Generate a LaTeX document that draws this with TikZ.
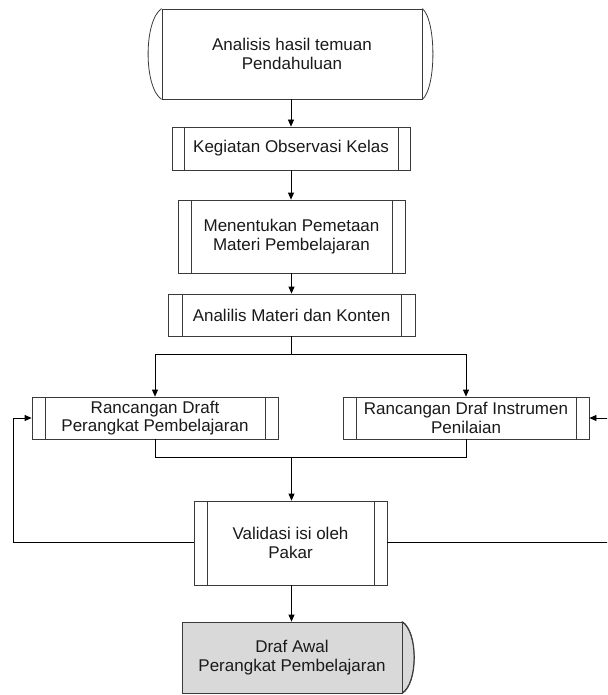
\documentclass[tikz,border=0pt]{standalone}
\usepackage{fontspec}
\setmainfont{Liberation Sans}
\usetikzlibrary{arrows.meta}
\definecolor{boxc}{HTML}{3A3A3A}
\definecolor{fillg}{HTML}{D9D9D9}
\definecolor{txtc}{HTML}{1A1A1A}
\tikzset{
  box/.style={draw=boxc, line width=0.8pt, fill=white, align=center, inner sep=0pt, text=txtc},
  procbox/.style={box, path picture={
      \draw[boxc, line width=0.8pt]
        ([xshift=#1]path picture bounding box.north west) -- ([xshift=#1]path picture bounding box.south west)
        ([xshift=-#1]path picture bounding box.north east) -- ([xshift=-#1]path picture bounding box.south east);}},
  arr/.style={draw=black, line width=0.8pt, -{Triangle[length=7pt,width=6pt]}},
  ln/.style={draw=black, line width=0.8pt},
  bulge/.style={draw=boxc, line width=0.8pt}
}
\begin{document}
\begin{tikzpicture}[x=1pt, y=-1pt, font=\fontsize{17}{18.5}\selectfont]
\clip (0,0) rectangle (607,695);
\fill[white] (0,0) rectangle (607,695);

% nodes
\node[box, minimum width=260pt, minimum height=90pt] (n1) at (292,54) {Analisis hasil temuan\\Pendahuluan};
\draw[bulge] (n1.north west) .. controls +(-18,12) and +(-18,-12) .. (n1.south west);
\draw[bulge] (n1.north east) .. controls +(14,12) and +(14,-12) .. (n1.south east);

\node[procbox=12pt, minimum width=238pt, minimum height=43pt] (n2) at (291,148.5) {Kegiatan Observasi Kelas};
\node[procbox=13pt, minimum width=227pt, minimum height=73pt] (n3) at (291.5,236.5) {Menentukan Pemetaan\\Materi Pembelajaran};
\node[procbox=14pt, minimum width=247pt, minimum height=42pt] (n4) at (291.5,315) {Analilis Materi dan Konten};
\node[procbox=13pt, minimum width=246pt, minimum height=42pt] (n5) at (155,418) {Rancangan Draft\\Perangkat Pembelajaran};
\node[procbox=13pt, minimum width=246pt, minimum height=42pt] (n6) at (466,418) {Rancangan Draf Instrumen\\Penilaian};
\node[procbox=13pt, minimum width=193pt, minimum height=84pt] (n7) at (290.5,543) {Validasi isi oleh\\Pakar};
\filldraw[fill=fillg, draw=boxc, line width=0.8pt] (402,622) .. controls +(16,10) and +(16,-10) .. (402,693) -- cycle;
\node[box, fill=fillg, minimum width=220pt, minimum height=71pt] (n8) at (292,657.5) {Draf Awal\\Perangkat Pembelajaran};
\draw[bulge] (n8.north east) .. controls +(16,10) and +(16,-10) .. (n8.south east);

% helper coordinates
\coordinate (split) at (291.5,354);
\coordinate (merge) at (291.5,457);
\coordinate (fbl) at (13,542);
\coordinate (fbr) at (612,542);

% connectors
\draw[arr] (n1.south -| n2.north) -- (n2.north);
\draw[arr] (n2.south) -- (n2.south |- n3.north);
\draw[arr] (n3.south) -- (n3.south |- n4.north);
\draw[ln] (n4.south) -- (split);
\draw[arr] (split) -| (n5.north);
\draw[arr] (split) -| (n6.north);
\draw[ln] (n5.south) |- (merge);
\draw[ln] (n6.south) |- (merge);
\draw[arr] (merge) -- (merge |- n7.north);
\draw[arr] (n7.west |- fbl) -- (fbl) |- (n5.west);
\draw[arr] (n7.east |- fbr) -- (fbr) |- (n6.east);
\draw[arr] (n7.south -| merge) -- (merge |- n8.north);
\end{tikzpicture}
\end{document}
